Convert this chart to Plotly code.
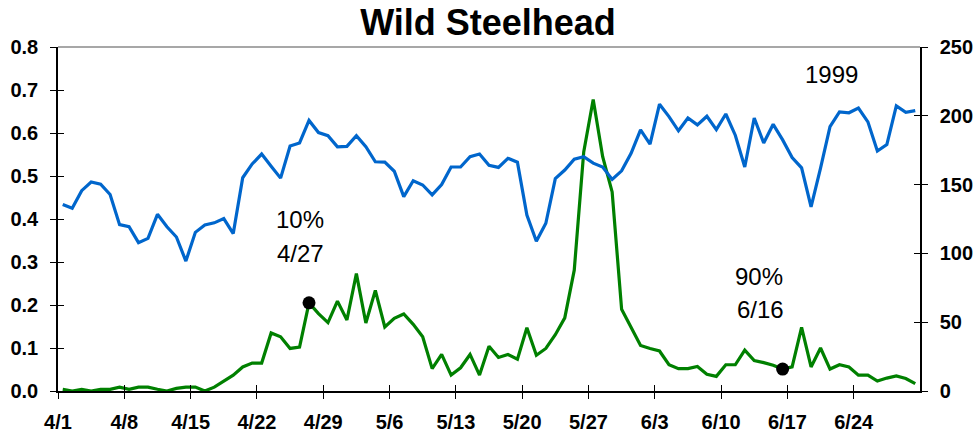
import pandas as pd
import plotly.graph_objects as go

# ---------------- data ----------------
start_date = "1999-04-01"
n_days = 91

# blue series (right axis, 0-250)
flow = [135.6, 132.8, 145.6, 151.9, 150.3, 142.8, 120.9, 119.4, 107.8, 110.9,
        128.4, 119.4, 111.9, 94.4, 115.3, 120.6, 122.2, 125.3, 114.4, 155.0,
        165.0, 172.2, 163.4, 154.7, 178.1, 180.3, 196.6, 187.8, 185.6, 177.5,
        177.8, 185.6, 177.5, 166.6, 166.3, 159.7, 141.3, 152.8, 149.7, 142.5,
        150.0, 162.8, 162.8, 170.3, 172.2, 164.1, 162.5, 169.1, 166.3, 127.8,
        108.8, 121.9, 154.4, 160.6, 168.4, 170.3, 165.6, 162.8, 153.8, 160.0,
        172.8, 189.7, 179.4, 208.4, 199.4, 189.1, 198.4, 193.4, 199.7, 190.0,
        201.3, 185.9, 162.8, 198.4, 180.3, 193.8, 182.5, 169.7, 162.2, 133.8,
        161.9, 192.2, 202.8, 202.2, 205.6, 195.6, 174.4, 179.1, 207.2, 202.5,
        203.8]

# green series (left axis, 0-0.8)
passage = [0.004, 0.000, 0.004, 0.000, 0.004, 0.004, 0.009, 0.004, 0.009, 0.009,
           0.004, 0.000, 0.006, 0.009, 0.009, 0.000, 0.009, 0.023, 0.037, 0.056,
           0.065, 0.065, 0.135, 0.126, 0.099, 0.102, 0.205, 0.180, 0.159, 0.209,
           0.165, 0.273, 0.158, 0.234, 0.149, 0.169, 0.179, 0.155, 0.126, 0.052,
           0.085, 0.037, 0.054, 0.085, 0.037, 0.104, 0.078, 0.085, 0.074, 0.147,
           0.083, 0.099, 0.131, 0.170, 0.281, 0.556, 0.678, 0.545, 0.463, 0.190,
           0.149, 0.106, 0.099, 0.093, 0.061, 0.052, 0.052, 0.057, 0.039, 0.034,
           0.061, 0.061, 0.095, 0.071, 0.066, 0.060, 0.051, 0.056, 0.148, 0.056,
           0.100, 0.051, 0.061, 0.056, 0.037, 0.037, 0.023, 0.030, 0.035, 0.029,
           0.017]

tick_labels = ["4/1", "4/8", "4/15", "4/22", "4/29", "5/6", "5/13", "5/20",
               "5/27", "6/3", "6/10", "6/17", "6/24"]

marker_dates = ["1999-04-27", "1999-06-16"]
marker_labels = [("10%", "4/27"), ("90%", "6/16")]
year_label = "1999"
title_text = "Wild Steelhead"

# ---------------- derived ----------------
days = pd.date_range(start_date, periods=n_days, freq="D")
x_vals = days + pd.Timedelta(hours=12)          # points centred in each day
tick_vals = pd.date_range(start_date, periods=len(tick_labels), freq="7D")
x_range = [days[0], days[-1] + pd.Timedelta(days=1)]

mk_idx = [list(days.strftime("%Y-%m-%d")).index(d) for d in marker_dates]
mk_x = [x_vals[i] for i in mk_idx]
mk_y = [passage[i] for i in mk_idx]

FONT = "Liberation Sans"
BLUE = "#0066CC"
GREEN = "#008000"

fig = go.Figure()
fig.add_trace(go.Scatter(x=x_vals, y=flow, mode="lines", yaxis="y2",
                         line=dict(color=BLUE, width=3.2), showlegend=False))
fig.add_trace(go.Scatter(x=x_vals, y=passage, mode="lines",
                         line=dict(color=GREEN, width=3.2), showlegend=False))
fig.add_trace(go.Scatter(x=mk_x, y=mk_y, mode="markers",
                         marker=dict(color="black", size=13), showlegend=False))
# empty helper traces so overlay axes (inside tick halves) render
fig.add_trace(go.Scatter(x=[], y=[], xaxis="x3", yaxis="y3", showlegend=False))
fig.add_trace(go.Scatter(x=[], y=[], xaxis="x3", yaxis="y4", showlegend=False))

tickfont = dict(family=FONT, size=20, color="black", weight="bold")

fig.update_layout(
    width=976, height=434,
    margin=dict(l=58, r=56, t=47, b=43.3, autoexpand=False),
    paper_bgcolor="white", plot_bgcolor="white",
    title=dict(text="<b>%s</b>" % title_text, x=0.5, xanchor="center",
               y=1 - 22 / 434, yanchor="middle",
               font=dict(family=FONT, size=36, color="black")),
    xaxis=dict(type="date", range=x_range, tickvals=tick_vals, ticktext=tick_labels,
               ticks="outside", ticklen=6, tickwidth=1, tickcolor="black",
               showline=True, linecolor="black", linewidth=1.5,
               showgrid=False, zeroline=False, tickfont=tickfont,
               ticklabelstandoff=6),
    xaxis3=dict(type="date", range=x_range, tickvals=tick_vals, overlaying="x",
                anchor="y3", ticks="inside", ticklen=6, tickwidth=1, tickcolor="black",
                showticklabels=False, showline=False, showgrid=False, zeroline=False),
    yaxis=dict(range=[0, 0.8], dtick=0.1, tickformat=".1f",
               ticks="outside", ticklen=6, tickwidth=1, tickcolor="black",
               showline=True, linecolor="black", linewidth=1.5,
               showgrid=False, zeroline=False, tickfont=tickfont,
               ticklabelstandoff=8),
    yaxis2=dict(range=[0, 250], dtick=50, side="right", overlaying="y", anchor="x",
                ticks="outside", ticklen=6, tickwidth=1, tickcolor="black",
                showline=True, linecolor="black", linewidth=1.5,
                showgrid=False, zeroline=False, tickfont=tickfont,
                ticklabelstandoff=8),
    yaxis3=dict(range=[0, 0.8], dtick=0.1, overlaying="y", anchor="x3", side="left",
                ticks="inside", ticklen=6, tickwidth=1, tickcolor="black",
                showticklabels=False, showline=False, showgrid=False, zeroline=False),
    yaxis4=dict(range=[0, 250], dtick=50, overlaying="y", anchor="x3", side="right",
                ticks="inside", ticklen=6, tickwidth=1, tickcolor="black",
                showticklabels=False, showline=False, showgrid=False, zeroline=False),
    shapes=[dict(type="line", xref="paper", yref="paper", x0=0, x1=1, y0=1, y1=1,
                 line=dict(color="#8a8a8a", width=1.5))],
)

PL, PR, PT, PB = 58, 920, 47, 390.7


def px_x(v):
    return (v - PL) / (PR - PL)


def px_y(v):
    return (PB - v) / (PB - PT)


ann_font = dict(family=FONT, size=24, color="black")
ann_pos = [((300, 219), (300, 253)), ((759, 276), (760, 309))]
for (l1, l2), ((x1, y1), (x2, y2)) in zip(marker_labels, ann_pos):
    fig.add_annotation(text=l1, x=px_x(x1), y=px_y(y1), xref="paper", yref="paper",
                       showarrow=False, font=ann_font, xanchor="center", yanchor="middle")
    fig.add_annotation(text=l2, x=px_x(x2), y=px_y(y2), xref="paper", yref="paper",
                       showarrow=False, font=ann_font, xanchor="center", yanchor="middle")
fig.add_annotation(text=year_label, x=px_x(831), y=px_y(74), xref="paper", yref="paper",
                   showarrow=False, font=ann_font, xanchor="center", yanchor="middle")

fig.write_html("out.html", config={"displayModeBar": False},
               post_script="document.body.style.margin='0';"
                           "document.body.style.overflow='hidden';")
